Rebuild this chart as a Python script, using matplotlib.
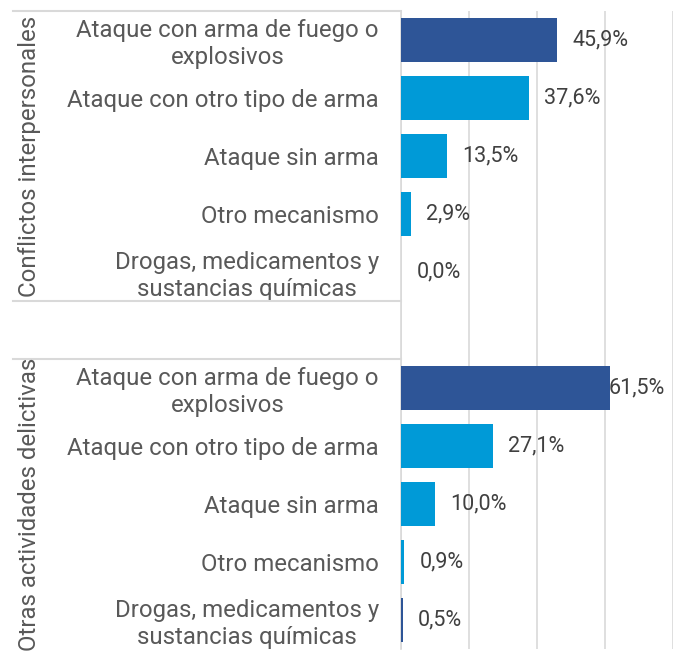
import matplotlib
matplotlib.use("Agg")
import matplotlib.pyplot as plt
from matplotlib.transforms import blended_transform_factory

plt.rcParams['font.family'] = ['Roboto', 'DejaVu Sans']

groups = ['Conflictos interpersonales', 'Otras actividades delictivas']
categories = ['Ataque con arma de fuego o\nexplosivos',
              'Ataque con otro tipo de arma',
              'Ataque sin arma',
              'Otro mecanismo',
              'Drogas, medicamentos y\nsustancias químicas']
conflictos = [45.9, 37.6, 13.5, 2.9, 0.0]
otras = [61.5, 27.1, 10.0, 0.9, 0.5]
bar_colors = ['#2E5597', '#009AD7', '#009AD7', '#009AD7', '#2E5597']

W, H = 678, 651
fig = plt.figure(figsize=(W / 100, H / 100), dpi=100)
# plot area in pixels: x 401..673, y 11..649
ax = fig.add_axes([401 / W, 2 / H, 272 / W, 638 / H])

n = len(categories)
pos1 = list(range(n))
pos2 = [p + n + 1 for p in range(n)]

ax.barh(pos1, conflictos, height=0.77, color=bar_colors, zorder=3)
ax.barh(pos2, otras, height=0.77, color=bar_colors, zorder=3)

ax.set_xlim(0, 80)
ax.set_ylim(2 * n + 0.5, -0.5)
ax.set_xticks([0, 20, 40, 60, 80])
ax.xaxis.grid(True, color='#D9D9D9', linewidth=1.2, zorder=0)
ax.tick_params(axis='x', length=0, labelbottom=False)
for s in ['top', 'right', 'bottom']:
    ax.spines[s].set_visible(False)
ax.spines['left'].set_color('#D9D9D9')
ax.spines['left'].set_linewidth(1.2)

ax.set_yticks(pos1 + pos2, categories * 2)
ax.tick_params(axis='y', length=0, pad=16, labelsize=17.3, labelcolor='#595959')
for lab in ax.get_yticklabels():
    lab.set_multialignment('center')

# value labels
for p, v in zip(pos1 + pos2, conflictos + otras):
    txt = f'{v:.1f}%'.replace('.', ',')
    if v > 60:
        ax.annotate(txt, (v, p), xytext=(-1, 0), textcoords='offset points',
                    va='center', ha='left', fontsize=15.5, color='#404040', zorder=4)
    else:
        ax.annotate(txt, (v, p), xytext=(11, 0), textcoords='offset points',
                    va='center', ha='left', fontsize=15.5, color='#404040')

# group labels and separators
tr = blended_transform_factory(ax.transAxes, ax.transData)
x_lab = (30 - 401) / 272
x_line = (13 - 401) / 272
for g, ps in zip(groups, [pos1, pos2]):
    mid = (ps[0] + ps[-1]) / 2
    ax.text(x_lab, mid, g, transform=tr, rotation=90, ha='center', va='center',
            fontsize=17.3, color='#595959', clip_on=False)
for y in [-0.5, n - 0.5, n + 0.5]:
    ax.plot([x_line, 0], [y, y], transform=tr, color='#D9D9D9', linewidth=1.5,
            clip_on=False)

fig.savefig('out.png', dpi=100)
